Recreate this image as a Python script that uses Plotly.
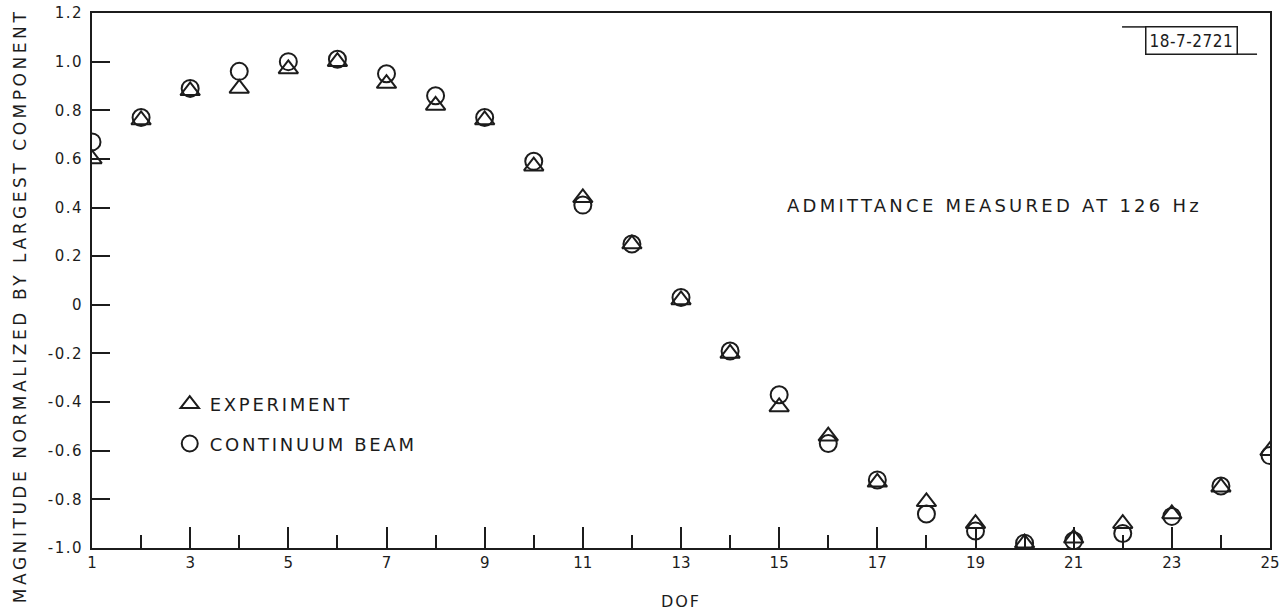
import plotly.graph_objects as go

# ---- data ----
dof = list(range(1, 26))
experiment = [0.60, 0.76, 0.88, 0.89, 0.97, 1.00, 0.91, 0.82, 0.76, 0.57,
              0.44, 0.25, 0.02, -0.20, -0.42, -0.54, -0.73, -0.81, -0.90, -0.98,
              -0.96, -0.90, -0.86, -0.75, -0.60]
continuum_beam = [0.67, 0.77, 0.89, 0.96, 1.00, 1.01, 0.95, 0.86, 0.77, 0.59,
                  0.41, 0.25, 0.03, -0.19, -0.37, -0.57, -0.72, -0.86, -0.93, -0.98,
                  -0.97, -0.94, -0.87, -0.745, -0.62]

x_tick_vals = [d for d in dof if d % 2 == 1]
x_minor_vals = [d for d in dof if d % 2 == 0]
y_tick_vals = [-1.0, -0.8, -0.6, -0.4, -0.2, 0, 0.2, 0.4, 0.6, 0.8, 1.0, 1.2]
y_tick_text = ["-1.0", "-0.8", "-0.6", "-0.4", "-0.2", "0", "0.2", "0.4", "0.6", "0.8", "1.0", "1.2"]

x_title = "DOF"
y_title = "MAGNITUDE NORMALIZED BY LARGEST COMPONENT"
note = "ADMITTANCE MEASURED AT 126 Hz"
fig_id = "18-7-2721"

INK = "#1c1c1c"
FONT = "DejaVu Sans"


def spaced(text, px):
    return f'<span style="letter-spacing:{px}px">{text}</span>'


fig = go.Figure()
fig.add_trace(go.Scatter(
    x=dof, y=experiment, mode="markers", name=spaced("EXPERIMENT", 2.7),
    legendgroup="a",
    marker=dict(symbol="triangle-up-open", size=17, color=INK, line=dict(color=INK, width=2)),
))
fig.add_trace(go.Scatter(
    x=dof, y=continuum_beam, mode="markers", name=spaced("CONTINUUM BEAM", 2.7),
    legendgroup="b",
    marker=dict(symbol="circle-open", size=17, color=INK, line=dict(color=INK, width=2)),
))

axis_common = dict(showgrid=False, zeroline=False, showline=True, linecolor=INK,
                   linewidth=2, mirror=True, ticks="inside", tickcolor=INK,
                   automargin=False)

fig.update_layout(
    width=1284, height=611,
    margin=dict(l=92, r=14, t=13, b=63, autoexpand=False),
    paper_bgcolor="white", plot_bgcolor="white",
    font=dict(family=FONT, color=INK),
    xaxis=dict(range=[1, 25], tickmode="array", tickvals=x_tick_vals,
               ticklen=21, tickwidth=1.5,
               tickfont=dict(family=FONT, size=15, color=INK),
               minor=dict(tickmode="array", tickvals=x_minor_vals, ticklen=13,
                          tickwidth=1.5, ticks="inside", tickcolor=INK),
               title=dict(text=spaced(x_title, 2), font=dict(family=FONT, size=16, color=INK),
                          standoff=26),
               **axis_common),
    yaxis=dict(range=[-1.0, 1.2], tickmode="array", tickvals=y_tick_vals,
               ticktext=[spaced(t, 1.5) for t in y_tick_text], ticklen=18, tickwidth=1.5,
               ticklabelstandoff=4,
               tickfont=dict(family=FONT, size=15, color=INK),
               **axis_common),
    yaxis2=dict(range=[-1.0, 1.2], overlaying="y", side="left", anchor="x",
                showgrid=False, zeroline=False, showline=False, automargin=False,
                tickmode="array", tickvals=[0], ticks="inside", ticklen=40,
                tickwidth=1.5, tickcolor=INK, showticklabels=False),
    legend=dict(x=0.066, y=0.303, xanchor="left", yanchor="top",
                bgcolor="rgba(0,0,0,0)", tracegroupgap=13,
                font=dict(family=FONT, size=18, color=INK)),
    showlegend=True,
)

# y-axis title (placed as rotated text so it can sit where the reference has it)
fig.add_annotation(x=-0.0611, y=0.452, xref="paper", yref="paper", textangle=-90,
                   text=spaced(y_title, 3.55), showarrow=False,
                   xanchor="center", yanchor="middle",
                   font=dict(family=FONT, size=17, color=INK))

fig.add_annotation(x=19.38, y=0.41, xref="x", yref="y", text=spaced(note, 3.25),
                   showarrow=False, xanchor="center", yanchor="middle",
                   font=dict(family=FONT, size=18, color=INK))

fig.add_annotation(x=0.933, y=0.948, xref="paper", yref="paper",
                   xanchor="center", yanchor="middle",
                   text=spaced(fig_id, 0.5), showarrow=False,
                   font=dict(family="Liberation Sans Narrow, DejaVu Sans Condensed", size=17, color=INK),
                   bordercolor=INK, borderwidth=1.5, borderpad=3, bgcolor="white")
fig.add_shape(type="line", xref="paper", yref="paper", x0=0.8744, x1=0.8939, y0=0.974, y1=0.974,
              line=dict(color=INK, width=1.5))
fig.add_shape(type="line", xref="paper", yref="paper", x0=0.972, x1=0.989, y0=0.923, y1=0.923,
              line=dict(color=INK, width=1.5))

fig.write_html("out.html", config={"displayModeBar": False},
               post_script="document.body.style.margin='0';")
